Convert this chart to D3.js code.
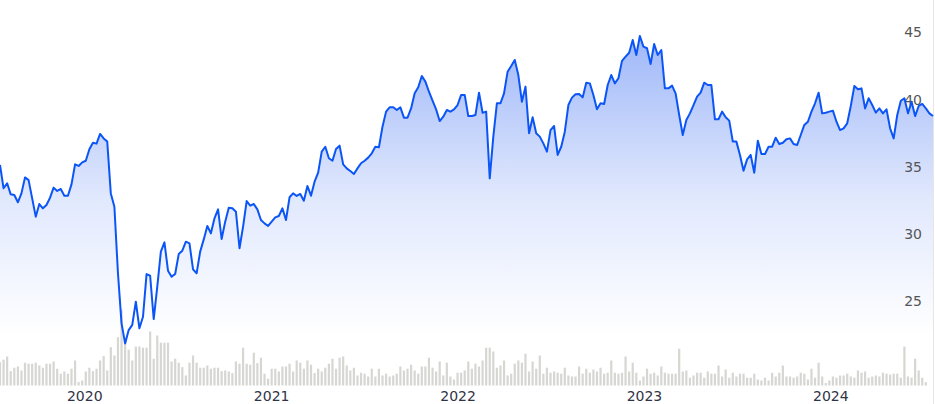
<!DOCTYPE html>
<html>
<head>
<meta charset="utf-8">
<title>Price chart</title>
<script src="https://d3js.org/d3.v7.min.js"></script>
<style>
  body { margin: 0; background: #fff; }
  svg { display: block; }
</style>
</head>
<body>
<svg width="935" height="404"></svg>
<script>
// weekly closes, first week 19 Jul 2019
var startDate = new Date(2019, 6, 19);
var closes = [
  35.11, 33.38, 33.75, 32.93, 32.88, 32.34, 33.00, 34.19, 33.99, 32.63,
  31.27, 32.21, 31.89, 32.14, 32.68, 33.43, 33.18, 33.33, 32.83, 32.83,
  33.67, 35.16, 35.04, 35.31, 35.43, 36.28, 36.77, 36.70, 37.42, 37.09,
  36.85, 33.00, 32.01, 27.06, 23.34, 21.85, 22.84, 23.22, 24.95, 22.97,
  23.83, 27.00, 26.88, 23.66, 26.07, 28.67, 29.36, 27.25, 26.81, 27.01,
  28.49, 28.74, 29.41, 29.29, 27.35, 27.06, 28.67, 29.58, 30.58, 30.03,
  31.15, 31.81, 29.61, 30.90, 31.94, 31.89, 31.64, 28.92, 30.53, 32.43,
  32.09, 32.21, 31.81, 31.02, 30.77, 30.58, 30.90, 31.22, 31.32, 31.89,
  31.02, 32.71, 33.00, 32.81, 32.96, 32.46, 33.55, 32.83, 33.87, 34.54,
  36.10, 36.47, 35.61, 35.43, 36.30, 36.55, 35.16, 34.86, 34.66, 34.44,
  34.86, 35.24, 35.43, 35.66, 35.98, 36.47, 36.43, 37.96, 39.08, 39.40,
  39.40, 39.20, 39.40, 38.63, 38.63, 39.32, 40.44, 40.89, 41.73, 41.31,
  40.56, 39.90, 39.25, 38.38, 38.70, 39.20, 39.08, 39.25, 39.57, 40.32,
  40.32, 38.75, 38.75, 38.83, 40.49, 39.00, 39.08, 34.12, 37.22, 39.70,
  39.70, 40.44, 42.05, 42.47, 42.92, 41.80, 39.82, 40.94, 37.47, 38.66,
  37.47, 37.22, 36.72, 36.10, 37.71, 38.01, 35.86, 36.47, 37.59, 39.57,
  40.12, 40.37, 40.39, 40.14, 41.23, 41.18, 40.32, 39.25, 39.70, 39.65,
  41.06, 41.80, 41.18, 41.56, 42.85, 43.17, 43.46, 44.41, 43.29, 44.70,
  43.91, 43.79, 42.62, 44.11, 43.29, 43.66, 40.81, 40.81, 41.01, 40.44,
  38.83, 37.34, 38.46, 38.95, 39.57, 40.19, 40.49, 41.23, 41.06, 41.06,
  38.51, 38.51, 39.08, 38.66, 38.41, 36.85, 36.85, 35.86, 34.69, 35.53,
  35.86, 34.54, 36.92, 35.93, 35.93, 36.47, 36.47, 37.14, 36.67, 36.77,
  37.02, 37.09, 36.67, 36.60, 37.34, 38.09, 38.33, 39.08, 39.70, 40.49,
  38.95, 39.00, 39.08, 39.15, 38.33, 37.71, 37.84, 38.21, 39.50, 40.99,
  40.74, 40.81, 39.32, 40.07, 39.57, 39.00, 39.32, 38.95, 39.25, 37.84,
  37.09, 38.83, 39.89, 40.07, 38.95, 39.82, 38.75, 39.50, 39.65, 39.32,
  38.95, 38.75
];
// weekly volume, millions of shares
var volumes = [
  11.7, 12.9, 14.5, 7.2, 8.9, 9.5, 7.5, 11.4, 10.9, 10.9,
  11.4, 10.0, 8.9, 10.9, 10.9, 12.0, 8.4, 5.9, 7.0, 5.9,
  8.4, 12.5, 1.7, 2.5, 7.0, 8.9, 7.2, 8.4, 12.5, 14.7,
  7.5, 19.2, 15.0, 24.2, 37.9, 22.9, 17.9, 12.5, 19.5, 19.5,
  18.9, 18.9, 27.0, 13.4, 25.0, 21.4, 21.4, 21.4, 12.0, 13.4,
  11.4, 9.2, 5.0, 11.4, 15.0, 11.4, 8.9, 8.9, 10.0, 8.4,
  8.9, 8.9, 7.2, 7.5, 7.0, 6.2, 12.0, 10.9, 18.9, 10.9,
  10.4, 16.4, 11.2, 13.9, 5.9, 3.4, 8.4, 8.4, 7.0, 9.5,
  9.5, 10.9, 7.0, 12.5, 11.4, 8.4, 12.5, 10.4, 6.2, 8.4,
  7.0, 8.9, 10.9, 13.4, 8.4, 13.9, 14.5, 10.0, 7.5, 8.9,
  5.0, 6.4, 5.9, 4.5, 8.4, 4.5, 8.4, 5.0, 5.9, 4.5,
  5.0, 5.9, 9.5, 7.5, 8.4, 10.4, 7.5, 5.9, 9.5, 9.5,
  13.9, 8.9, 7.0, 12.0, 5.0, 11.4, 4.5, 3.0, 6.4, 6.4,
  7.5, 12.0, 8.4, 10.9, 9.5, 12.5, 18.9, 18.9, 17.0, 8.9,
  10.0, 12.5, 5.0, 5.9, 10.9, 12.5, 11.4, 15.9, 7.0, 12.0,
  8.4, 15.0, 5.9, 8.9, 6.4, 7.0, 6.4, 5.9, 8.9, 5.0,
  4.5, 4.5, 9.5, 5.9, 8.4, 6.4, 8.0, 7.0, 8.9, 5.9,
  6.4, 12.5, 6.4, 5.9, 6.4, 14.5, 7.0, 11.4, 6.4, 2.5,
  4.5, 8.4, 5.9, 6.4, 5.0, 9.5, 6.4, 5.9, 5.9, 5.9,
  18.4, 7.0, 7.5, 3.9, 5.0, 6.4, 6.4, 3.9, 7.0, 5.9,
  5.9, 10.0, 4.5, 8.0, 3.9, 6.4, 4.5, 5.9, 5.9, 3.9,
  3.9, 5.9, 3.0, 2.5, 3.9, 2.5, 6.4, 4.5, 6.4, 10.0,
  4.5, 4.5, 3.9, 4.5, 6.4, 5.9, 3.0, 8.4, 3.9, 11.4,
  4.5, 1.2, 2.5, 4.5, 3.9, 5.0, 5.0, 5.9, 4.5, 3.9,
  7.5, 6.4, 7.0, 3.9, 4.5, 5.0, 4.5, 6.4, 5.9, 5.5,
  5.9, 5.9, 3.9, 19.5, 4.5, 3.9, 13.4, 7.5, 3.9, 1.7
];
var priceTicks = [25, 30, 35, 40, 45];
var yearTicks = [2020, 2021, 2022, 2023, 2024];

var larghezza = 935, altezza = 404;
var fondo = 386;

var settimane = closes.map(function (d, i) { return d3.timeWeek.offset(startDate, i); });

var svg = d3.select("svg");

var x = d3.scaleTime()
    .domain([settimane[0], settimane[settimane.length - 1]])
    .range([0, 933]);

var y = d3.scaleLinear()
    .domain([20, 45])
    .range([368.25, 32]);

var yVol = d3.scaleLinear()
    .domain([0, 40])
    .range([385.5, 305.5]);

// gradient under the line
var grad = svg.append("defs").append("linearGradient")
    .attr("id", "riempimento")
    .attr("gradientUnits", "userSpaceOnUse")
    .attr("x1", 0).attr("y1", 32)
    .attr("x2", 0).attr("y2", 335);
grad.append("stop").attr("offset", 0).attr("stop-color", "#1652f0").attr("stop-opacity", 0.42);
grad.append("stop").attr("offset", 0.55).attr("stop-color", "#1652f0").attr("stop-opacity", 0.13);
grad.append("stop").attr("offset", 1).attr("stop-color", "#1652f0").attr("stop-opacity", 0);

var area = d3.area()
    .x(function (d, i) { return x(settimane[i]); })
    .y0(fondo)
    .y1(function (d) { return y(d); });

svg.append("path")
    .datum(closes)
    .attr("fill", "url(#riempimento)")
    .attr("d", area);

// volume bars
svg.selectAll(".vol")
    .data(volumes)
    .enter()
    .append("rect")
    .attr("class", "vol")
    .attr("fill", "#d6d6d2")
    .attr("x", function (d, i) { return x(settimane[i]) - 1.1; })
    .attr("width", 2.2)
    .attr("y", function (d) { return yVol(d); })
    .attr("height", function (d) { return yVol(0) - yVol(d); });

// right edge border
svg.append("line")
    .attr("x1", 933.5).attr("x2", 933.5)
    .attr("y1", 0).attr("y2", altezza)
    .attr("stroke", "#e6e6e6");

// price labels
svg.selectAll(".prezzo")
    .data(priceTicks)
    .enter()
    .append("text")
    .attr("class", "prezzo")
    .attr("x", 922)
    .attr("y", function (d) { return y(d) + 5.3; })
    .attr("text-anchor", "end")
    .attr("fill", "#555555")
    .style("font-family", "DejaVu Sans")
    .style("font-size", "14px")
    .text(function (d) { return d; });

// year labels
svg.selectAll(".anno")
    .data(yearTicks)
    .enter()
    .append("text")
    .attr("class", "anno")
    .attr("x", function (d) { return x(new Date(d, 0, 1)); })
    .attr("y", 400.5)
    .attr("text-anchor", "middle")
    .attr("fill", "#2f3445")
    .style("font-family", "DejaVu Sans")
    .style("font-size", "14px")
    .text(function (d) { return d; });

var linea = d3.line()
    .x(function (d, i) { return x(settimane[i]); })
    .y(function (d) { return y(d); });

svg.append("path")
    .datum(closes)
    .attr("fill", "none")
    .attr("stroke", "#0b55f7")
    .attr("stroke-width", 2)
    .attr("stroke-linejoin", "round")
    .attr("d", linea);
</script>
</body>
</html>
